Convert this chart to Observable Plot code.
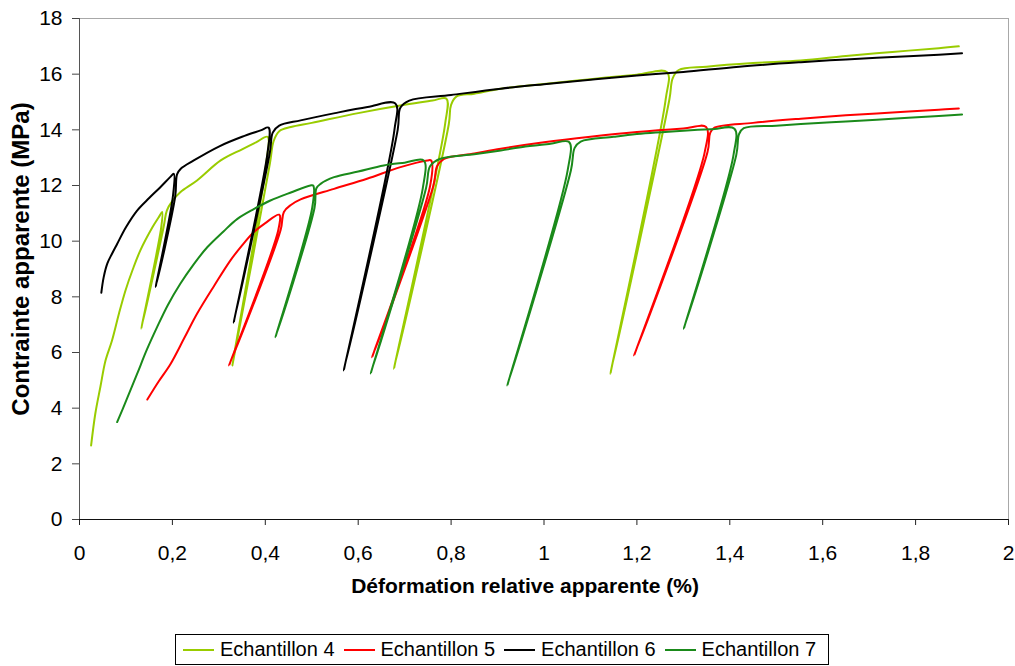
<!DOCTYPE html>
<html><head><meta charset="utf-8">
<script src="https://cdn.jsdelivr.net/npm/d3@7"></script>
<script src="https://cdn.jsdelivr.net/npm/@observablehq/plot@0.6"></script>
<style>
body{margin:0;background:#fff;font-family:"Liberation Sans",Arial,sans-serif;}
#wrap{position:relative;width:1015px;height:666px;overflow:hidden;}
#legend{position:absolute;left:175px;top:634px;width:652px;height:29px;border:1px solid #000;display:flex;align-items:center;font-size:20px;color:#000;background:#fff;}
#legend .item{display:flex;align-items:center;margin-right:9px;white-space:nowrap;}
#legend .item:first-child{margin-left:7px;}
#legend .sw{display:inline-block;width:31px;height:2px;margin-right:6px;}
</style></head><body>
<div id="wrap"><div id="chart"></div><div id="legend"></div></div>
<script>
const seriesNames = ["Echantillon 4", "Echantillon 5", "Echantillon 6", "Echantillon 7"];
const seriesColors = ["#99cc00", "#ff0000", "#000000", "#1a8a1a"];

// Echantillon 4 (light green)
const e4 = [
  [0.025,2.66],[0.034,3.8],[0.045,4.77],[0.056,5.71],[0.07,6.43],[0.085,7.4],[0.099,8.23],[0.115,9.0],[0.131,9.67],[0.157,10.5],[0.172,10.9],[0.178,11.05],
  [0.176,10.5],[0.133,6.85],
  [0.181,10.5],[0.188,11.1],[0.2,11.45],[0.217,11.76],[0.253,12.18],[0.304,12.9],[0.35,13.3],[0.38,13.55],[0.405,13.75],
  [0.402,12.8],[0.329,5.53],
  [0.41,12.8],[0.418,13.6],[0.43,13.95],[0.455,14.1],[0.5,14.25],[0.6,14.6],[0.7,14.9],[0.76,15.05],[0.79,15.12],
  [0.787,14.2],[0.677,5.41],
  [0.795,14.2],[0.8,14.9],[0.812,15.2],[0.85,15.3],[0.907,15.48],[1.0,15.65],[1.1,15.82],[1.2,15.98],[1.265,16.07],
  [1.262,15.1],[1.143,5.23],
  [1.27,15.1],[1.277,15.85],[1.29,16.15],[1.35,16.27],[1.45,16.4],[1.553,16.49],[1.65,16.65],[1.75,16.8],[1.85,16.93],[1.893,17.0]
];
// Echantillon 5 (red)
const e5 = [
  [0.146,4.31],[0.17,4.95],[0.196,5.59],[0.225,6.5],[0.253,7.39],[0.29,8.4],[0.325,9.31],[0.35,9.85],[0.375,10.32],[0.4,10.65],[0.43,10.95],
  [0.428,10.4],[0.322,5.53],
  [0.433,10.4],[0.44,11.05],[0.455,11.3],[0.476,11.5],[0.548,11.88],[0.619,12.24],[0.691,12.66],[0.749,12.9],[0.757,12.9],
  [0.755,12.0],[0.63,5.83],
  [0.762,12.0],[0.77,12.7],[0.785,12.96],[0.85,13.15],[0.907,13.32],[1.0,13.55],[1.1,13.75],[1.2,13.92],[1.3,14.05],[1.349,14.1],
  [1.346,13.2],[1.194,5.89],
  [1.352,13.2],[1.358,13.9],[1.367,14.08],[1.45,14.25],[1.553,14.4],[1.65,14.52],[1.75,14.62],[1.85,14.72],[1.893,14.77]
];
// Echantillon 6 (black)
const e6 = [
  [0.047,8.15],[0.052,8.7],[0.06,9.2],[0.07,9.55],[0.081,9.9],[0.1,10.5],[0.124,11.1],[0.15,11.55],[0.174,11.94],[0.195,12.3],[0.203,12.42],
  [0.201,11.6],[0.164,8.35],
  [0.206,11.6],[0.21,12.4],[0.218,12.6],[0.246,12.9],[0.3,13.4],[0.35,13.75],[0.39,13.98],[0.407,14.08],
  [0.405,13.2],[0.332,7.07],
  [0.41,13.2],[0.416,13.9],[0.43,14.15],[0.476,14.34],[0.55,14.6],[0.62,14.82],[0.68,14.95],
  [0.678,14.0],[0.569,5.35],
  [0.685,14.0],[0.691,14.8],[0.71,15.05],[0.8,15.25],[0.907,15.48],[1.0,15.64],[1.1,15.8],[1.2,15.95],[1.3,16.08],[1.42,16.27],[1.553,16.43],[1.65,16.53],[1.75,16.62],[1.85,16.7],[1.9,16.75]
];
// Echantillon 7 (dark green)
const e7 = [
  [0.081,3.5],[0.1,4.25],[0.124,5.23],[0.145,6.1],[0.167,6.91],[0.19,7.7],[0.217,8.47],[0.245,9.15],[0.275,9.78],[0.31,10.35],[0.34,10.8],[0.375,11.15],[0.411,11.46],[0.455,11.75],[0.497,12.0],[0.503,12.0],
  [0.501,11.2],[0.422,6.55],
  [0.506,11.2],[0.51,11.9],[0.519,12.06],[0.548,12.3],[0.6,12.5],[0.655,12.72],[0.7,12.82],[0.741,12.9],
  [0.739,11.9],[0.627,5.24],
  [0.746,11.9],[0.755,12.7],[0.777,12.96],[0.85,13.12],[0.907,13.26],[0.96,13.4],[1.014,13.5],[1.054,13.56],
  [1.051,12.55],[0.921,4.81],
  [1.058,12.55],[1.066,13.35],[1.079,13.58],[1.15,13.75],[1.2,13.85],[1.3,13.97],[1.36,14.02],[1.41,14.04],
  [1.408,13.1],[1.301,6.85],
  [1.414,13.1],[1.42,13.85],[1.43,14.06],[1.5,14.15],[1.553,14.21],[1.65,14.3],[1.75,14.4],[1.85,14.5],[1.9,14.55]
];

const xTicks = [0,0.2,0.4,0.6,0.8,1,1.2,1.4,1.6,1.8,2];
const yTicks = [0,2,4,6,8,10,12,14,16,18];
const xTitle = "Déformation relative apparente (%)";
const yTitle = "Contrainte apparente (MPa)";

const data = [];
[e4, e5, e6, e7].forEach((pts, i) => pts.forEach(([x, y]) => data.push({x, y, s: seriesNames[i]})));

const fmt = d => String(+d.toFixed(1)).replace(".", ",");

const chart = Plot.plot({
  width: 1015, height: 630,
  marginTop: 18, marginBottom: 111, marginLeft: 79, marginRight: 7,
  style: {fontFamily: '"Liberation Sans", Arial, sans-serif', background: "#fff", color: "#000", overflow: "visible"},
  x: {domain: [0, 2]},
  y: {domain: [0, 18]},
  color: {domain: seriesNames, range: seriesColors},
  marks: [
    Plot.frame({stroke: "#a8a8a8"}),
    Plot.axisX({ticks: xTicks, tickFormat: fmt, tickSize: 6, tickPadding: 20, fontSize: 21, label: null, stroke: "#222"}),
    Plot.axisY({ticks: yTicks, tickFormat: fmt, tickSize: 7, tickPadding: 10, fontSize: 21, label: null, stroke: "#444"}),
    Plot.line(data, {x: "x", y: "y", z: "s", stroke: "s", strokeWidth: 2, curve: "catmull-rom"}),
    Plot.ruleX([0], {stroke: "#555"}),
    Plot.ruleY([0], {stroke: "#111"}),
    Plot.text([xTitle], {text: d => d, frameAnchor: "bottom", dy: 73, dx: -19, fontWeight: "bold", fontSize: 21}),
    Plot.text([yTitle], {text: d => d, frameAnchor: "left", textAnchor: "middle", rotate: -90, dx: -58, dy: -10, fontWeight: "bold", fontSize: 24})
  ]
});
document.getElementById("chart").appendChild(chart);

const legend = document.getElementById("legend");
seriesNames.forEach((name, i) => {
  const item = document.createElement("div");
  item.className = "item";
  const sw = document.createElement("span");
  sw.className = "sw";
  sw.style.background = seriesColors[i];
  const label = document.createElement("span");
  label.textContent = name;
  item.appendChild(sw);
  item.appendChild(label);
  legend.appendChild(item);
});
</script>
</body></html>
